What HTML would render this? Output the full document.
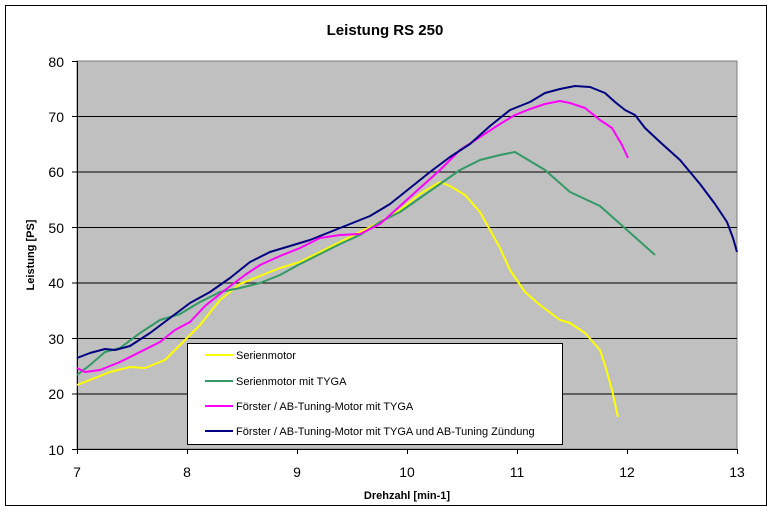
<!DOCTYPE html>
<html><head><meta charset="utf-8"><style>body{margin:0;background:#fff}</style></head><body>
<svg width="773" height="511" xmlns="http://www.w3.org/2000/svg" font-family="Liberation Sans, Arial, sans-serif">
<rect x="0" y="0" width="773" height="511" fill="#fff"/>
<rect x="5.5" y="5.5" width="761" height="500" fill="none" stroke="#000" stroke-width="1"/>
<text x="385" y="35" font-size="15" font-weight="bold" text-anchor="middle">Leistung RS 250</text>
<rect x="77" y="61" width="660" height="388" fill="#c0c0c0" stroke="#808080"/>
<g stroke="#000" stroke-width="1">
<line x1="77" y1="116.5" x2="737" y2="116.5"/><line x1="77" y1="172" x2="737" y2="172"/>
<line x1="77" y1="227.5" x2="737" y2="227.5"/><line x1="77" y1="283" x2="737" y2="283"/>
<line x1="77" y1="338.5" x2="737" y2="338.5"/><line x1="77" y1="394" x2="737" y2="394"/>
<line x1="77.5" y1="61" x2="77.5" y2="449"/><line x1="77" y1="449.5" x2="737" y2="449.5"/>
<line x1="72" y1="61.5" x2="77" y2="61.5"/><line x1="72" y1="116.5" x2="77" y2="116.5"/><line x1="72" y1="172" x2="77" y2="172"/><line x1="72" y1="227.5" x2="77" y2="227.5"/><line x1="72" y1="283" x2="77" y2="283"/><line x1="72" y1="338.5" x2="77" y2="338.5"/><line x1="72" y1="394" x2="77" y2="394"/><line x1="72" y1="449.5" x2="77" y2="449.5"/>
<line x1="77.5" y1="449" x2="77.5" y2="454"/><line x1="187.5" y1="449" x2="187.5" y2="454"/><line x1="297.5" y1="449" x2="297.5" y2="454"/><line x1="407.5" y1="449" x2="407.5" y2="454"/><line x1="517.5" y1="449" x2="517.5" y2="454"/><line x1="627.5" y1="449" x2="627.5" y2="454"/><line x1="737.5" y1="449" x2="737.5" y2="454"/>
</g>
<g font-size="14" text-anchor="end">
<text x="64" y="67">80</text><text x="64" y="122">70</text><text x="64" y="177">60</text><text x="64" y="233">50</text><text x="64" y="288">40</text><text x="64" y="344">30</text><text x="64" y="399">20</text><text x="64" y="455">10</text>
</g>
<g font-size="14" text-anchor="middle">
<text x="77" y="477">7</text><text x="187" y="477">8</text><text x="297" y="477">9</text><text x="407" y="477">10</text><text x="517" y="477">11</text><text x="627" y="477">12</text><text x="737" y="477">13</text>
</g>
<text x="407" y="499" font-size="11" font-weight="bold" text-anchor="middle">Drehzahl [min-1]</text>
<text transform="translate(34,255) rotate(-90)" font-size="11" font-weight="bold" text-anchor="middle">Leistung [PS]</text>
<g fill="none" stroke-width="2" stroke-linejoin="round">
<polyline stroke="#ffff00" points="77,385 95,378 110,372 130,367 145,368 165,360 180,345 200,325 220,300 240,284 260,276 280,268 300,262 320,252 340,242 360,232 380,222 400,210 420,194 440,182 450,186 465,195 480,212 490,230 500,248 510,270 525,292 540,305 560,320 570,323 585,333 600,350 605,365 612,390 618,417"/>
<polyline stroke="#339966" points="77,375 90,365 105,352 120,348 140,333 160,320 180,314 200,302 220,292 240,288 260,283 280,275 300,264 320,254 340,244 360,235 380,222 400,212 420,198 440,184 460,170 480,160 500,155 515,152 525,158 545,170 570,192 600,206 627,230 655,255"/>
<polyline stroke="#ff00ff" points="77,368 85,372 100,370 120,362 140,352 160,342 175,330 190,322 205,306 225,290 245,275 260,265 280,256 300,248 320,238 340,235 360,234 380,224 400,206 420,188 440,170 460,150 480,137 500,124 515,115 530,109 545,104 560,101 570,103 585,108 600,120 612,128 622,145 628,158"/>
<polyline stroke="#000080" points="77,358 90,353 105,349 115,350 130,346 150,333 170,318 190,303 210,292 230,278 250,262 270,252 290,246 310,240 330,232 350,224 370,216 390,204 410,188 430,172 450,157 470,144 490,126 510,110 530,102 545,93 560,89 575,86 590,87 605,93 615,102 625,110 635,115 645,128 660,142 680,160 700,184 715,204 727,222 733,238 737,252"/>
</g>
<rect x="187.5" y="343.5" width="375" height="101" fill="#fff" stroke="#000"/>
<g stroke-width="2">
<line x1="205" y1="355" x2="233" y2="355" stroke="#ffff00"/>
<line x1="205" y1="381" x2="233" y2="381" stroke="#339966"/>
<line x1="205" y1="406" x2="233" y2="406" stroke="#ff00ff"/>
<line x1="205" y1="431" x2="233" y2="431" stroke="#000080"/>
</g>
<g font-size="11">
<text x="236" y="359">Serienmotor</text>
<text x="236" y="385">Serienmotor mit TYGA</text>
<text x="236" y="410">Förster / AB-Tuning-Motor mit TYGA</text>
<text x="236" y="435">Förster / AB-Tuning-Motor mit TYGA  und AB-Tuning Zündung</text>
</g>
</svg>
</body></html>
